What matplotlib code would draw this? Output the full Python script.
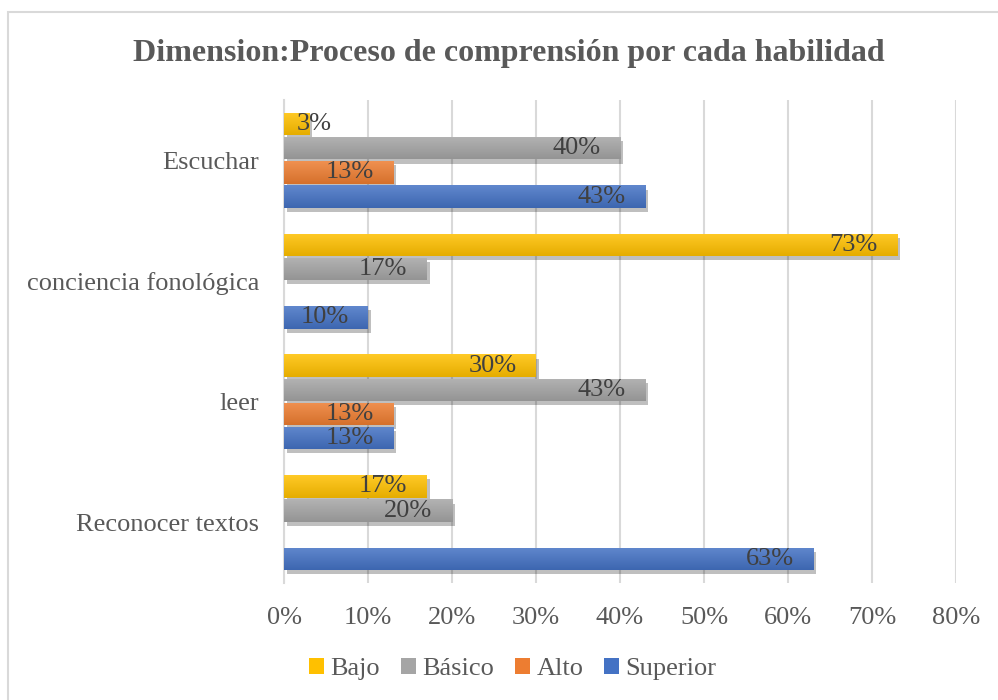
import numpy as np
import matplotlib.pyplot as plt
import matplotlib.patheffects as pe
from matplotlib.colors import LinearSegmentedColormap, to_rgb
from matplotlib.patches import Rectangle, Patch

plt.rcParams['font.family'] = ['Liberation Serif', 'DejaVu Serif']

categories = ['Escuchar', 'conciencia fonológica', 'leer', 'Reconocer textos']
series = ['Bajo', 'Básico', 'Alto', 'Superior']
bajo = [3, 73, 30, 17]
basico = [40, 17, 43, 20]
alto = [13, 0, 13, 0]
superior = [43, 10, 13, 63]
xticks = [0, 10, 20, 30, 40, 50, 60, 70, 80]

values = [bajo, basico, alto, superior]
colors = ['#FFC000', '#A5A5A5', '#ED7D31', '#4472C4']

fig = plt.figure(figsize=(9.98, 7.0), dpi=100)
ax = fig.add_axes([284 / 998, 1 - 583 / 700, (956 - 284) / 998, (583 - 100) / 700])

# chart border
fig.patches.append(Rectangle((8 / 998, -0.05), 1.2, 1 - 12 / 700 + 0.05,
                             transform=fig.transFigure, fill=False,
                             edgecolor='#d9d9d9', linewidth=1.5))

y = np.arange(len(categories))[::-1]
step = 0.2
height = 0.185
offsets = [1.5 * step, 0.5 * step, -0.5 * step, -1.5 * step]

shadow = [pe.SimplePatchShadow(offset=(2, -3), shadow_rgbFace='black', alpha=0.25), pe.Normal()]

for vals, name, col, off in zip(values, series, colors, offsets):
    pos = y + off
    bars = ax.barh(pos, vals, height=height, color=col, zorder=3)
    base = np.array(to_rgb(col))
    # light on top, darker at the bottom
    cmap = LinearSegmentedColormap.from_list(
        name, [np.clip(base * 0.9, 0, 1), np.clip(base + (1 - base) * 0.15, 0, 1)])
    grad = np.linspace(0, 1, 32).reshape(-1, 1)
    for b, v in zip(bars, vals):
        if v == 0:
            b.set_visible(False)
            continue
        b.set_path_effects(shadow)
        im = ax.imshow(grad, cmap=cmap, aspect='auto', origin='lower', zorder=4,
                       extent=[b.get_x(), b.get_x() + b.get_width(),
                               b.get_y(), b.get_y() + b.get_height()])
        im.set_clip_path(b)
        if v < 5:
            ax.text(v * 0.5, b.get_y() + b.get_height() / 2, f'{v}%', ha='left', va='center',
                    fontsize=19, color='#404040', zorder=5)
        else:
            ax.annotate(f'{v}%', (v, b.get_y() + b.get_height() / 2), xytext=(-14, 0),
                        textcoords='offset points', ha='right', va='center',
                        fontsize=19, color='#404040', zorder=5)

ax.set_xlim(0, 80)
ax.set_ylim(-0.5, len(categories) - 0.5)
ax.set_xticks(xticks)
ax.set_xticklabels([f'{t}%' for t in xticks], fontsize=19, color='#595959')
ax.set_yticks(y)
ax.set_yticklabels(categories, fontsize=19, color='#595959')
ax.tick_params(length=0, pad=18, axis='y')
ax.tick_params(length=0, pad=17, axis='x')
ax.grid(axis='x', color='#d9d9d9', linewidth=1.5, zorder=0)
ax.set_axisbelow(True)
for s in ['top', 'right', 'bottom']:
    ax.spines[s].set_visible(False)
ax.spines['left'].set_color('#d9d9d9')
ax.spines['left'].set_linewidth(1.5)

fig.text(0.51, 1 - 53 / 700, 'Dimension:Proceso de comprensión por cada habilidad',
         ha='center', va='center', fontsize=23, fontweight='bold', color='#595959')

handles = [Patch(facecolor=c, edgecolor='none') for c in colors]
fig.legend(handles, series, loc='center', bbox_to_anchor=(0.514, 1 - 669 / 700), ncol=4,
           frameon=False, fontsize=19, labelcolor='#595959', handlelength=0.55,
           handleheight=0.55, handletextpad=0.25, columnspacing=0.8)

plt.savefig('out.png', dpi=100)
